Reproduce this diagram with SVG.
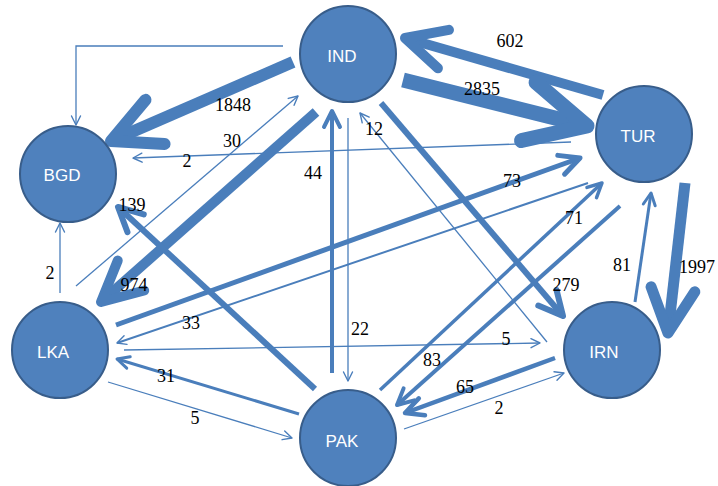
<svg xmlns="http://www.w3.org/2000/svg" width="718" height="486" viewBox="0 0 718 486">
<defs>
<style>
.e{fill:none;stroke:#4A7EBB;stroke-linecap:butt}
.t{marker-end:url(#thin);stroke-width:1.3}
.k{marker-end:url(#ah)}
.n circle{fill:#4F81BD;stroke:#385D8A;stroke-width:2}
.n text{fill:#fff;font-family:"Liberation Sans",Arial,sans-serif;font-size:17px;text-anchor:middle}
#labels text{font-family:"Liberation Serif","DejaVu Serif",serif;font-size:18px;fill:#000;text-anchor:middle}
</style>
<marker id="ah" markerUnits="strokeWidth" viewBox="-5 -3 6 6" markerWidth="6" markerHeight="6" refX="0" refY="0" orient="auto" overflow="visible">
<path d="M-4,-2 L0,0 L-4,2" fill="none" stroke="#4A7EBB" stroke-width="1" stroke-linecap="round" stroke-linejoin="round"/>
</marker>
<marker id="thin" markerUnits="userSpaceOnUse" viewBox="-12 -6 14 12" markerWidth="14" markerHeight="12" refX="0" refY="0" orient="auto" overflow="visible">
<path d="M-9,-4.5 L0,0 L-9,4.5" fill="none" stroke="#4A7EBB" stroke-width="1.4" stroke-linecap="round" stroke-linejoin="round"/>
</marker>
</defs>
<g id="connectors">
<path class="e t" d="M283,46 H76 V125"/>
<path class="e k" stroke-width="12" d="M293,62 L111,141"/>
<path class="e t" stroke-width="1.5" d="M76,286 L298,96"/>
<path class="e t" d="M571,142 L133,158"/>
<path class="e k" stroke-width="10" d="M316,112 L101,302"/>
<path class="e k" stroke-width="6" d="M315,389 L118,207"/>
<path class="e t" d="M60,293 L60,223"/>
<path class="e k" stroke-width="4" d="M332,373 L332,111"/>
<path class="e t" d="M348,118 L348,381"/>
<path class="e t" d="M547,342 L360,113"/>
<path class="e k" stroke-width="6" d="M381,103 L563,316"/>
<path class="e k" stroke-width="10" d="M603,95 L405,38"/>
<path class="e k" stroke-width="15" d="M403,80 L587,126"/>
<path class="e k" stroke-width="5" d="M116,325 L580,158"/>
<path class="e t" style="stroke-width:2" d="M588,183 L117,343"/>
<path class="e t" d="M124,350 L540,343"/>
<path class="e k" stroke-width="3" d="M299,414 L117,359"/>
<path class="e t" d="M108,382 L292,438"/>
<path class="e k" stroke-width="3.5" d="M380,390 L602,183"/>
<path class="e k" stroke-width="4" d="M620,206 L397,405"/>
<path class="e k" stroke-width="4.5" d="M555,358 L405,413"/>
<path class="e t" d="M404,429 L564,373"/>
<path class="e k" stroke-width="3" d="M635,302 L651,193"/>
<path class="e k" stroke-width="11" d="M685,183 L668,333"/>
</g>
<g id="IND" class="n"><circle cx="348" cy="54" r="48"/><text x="342" y="62">IND</text></g>
<g id="BGD" class="n"><circle cx="68" cy="174" r="48"/><text x="62" y="181">BGD</text></g>
<g id="TUR" class="n"><circle cx="644" cy="134" r="48"/><text x="638" y="142">TUR</text></g>
<g id="LKA" class="n"><circle cx="60" cy="350" r="48"/><text x="53" y="358">LKA</text></g>
<g id="PAK" class="n"><circle cx="348" cy="438" r="48"/><text x="342" y="447">PAK</text></g>
<g id="IRN" class="n"><circle cx="612" cy="350" r="48"/><text x="604" y="358">IRN</text></g>
<g id="labels">
<text x="510" y="47">602</text>
<text x="482" y="95">2835</text>
<text x="233" y="111">1848</text>
<text x="232" y="147">30</text>
<text x="187" y="167">2</text>
<text x="313" y="179">44</text>
<text x="132" y="211">139</text>
<text x="374" y="135">12</text>
<text x="512" y="187">73</text>
<text x="574" y="224">71</text>
<text x="50" y="279">2</text>
<text x="134" y="291">974</text>
<text x="191" y="329">33</text>
<text x="360" y="335">22</text>
<text x="166" y="382">31</text>
<text x="195" y="424">5</text>
<text x="506" y="345">5</text>
<text x="566" y="291">279</text>
<text x="622" y="271">81</text>
<text x="697" y="273">1997</text>
<text x="432" y="366">83</text>
<text x="465" y="393">65</text>
<text x="499" y="414">2</text>
</g>
</svg>
